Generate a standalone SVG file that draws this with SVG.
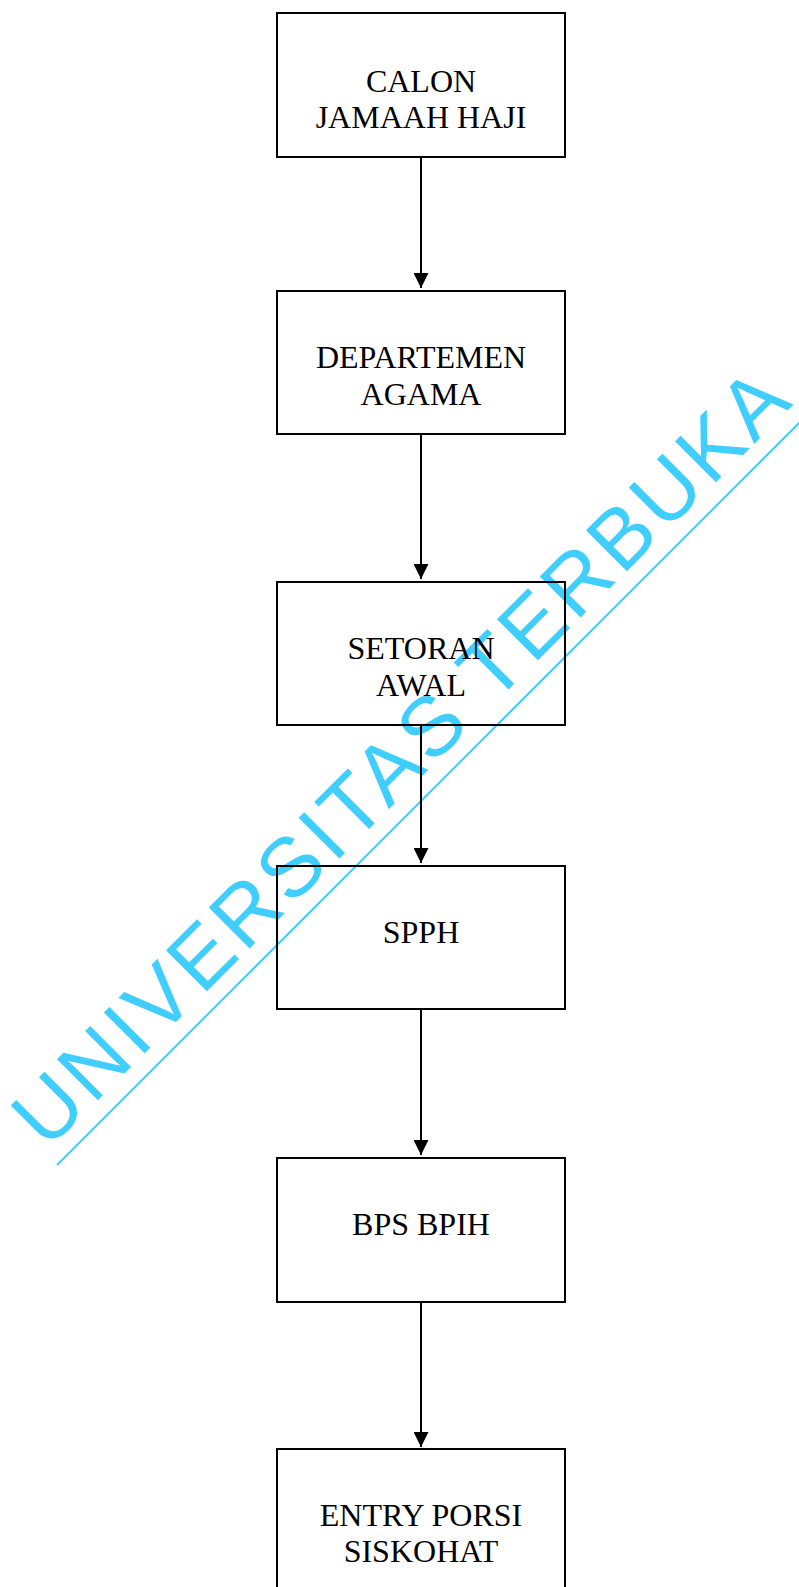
<svg xmlns="http://www.w3.org/2000/svg" width="799" height="1587" viewBox="0 0 799 1587">
<style>
.box{fill:none;stroke:#000;stroke-width:2}
.lbl{font-family:"Liberation Serif","Times New Roman",serif;font-size:32px;fill:#000;text-anchor:middle}
.conn{stroke:#000;stroke-width:2;fill:none}
.wm{font-family:"Liberation Sans",Arial,sans-serif;font-size:84px;fill:#40CEFF}
</style>
<defs>
<marker id="ah" markerUnits="userSpaceOnUse" markerWidth="15" markerHeight="15" refX="15" refY="7.5" orient="auto">
<path d="M0,0 L15,7.5 L0,15 z" fill="#000"/>
</marker>
</defs>
<rect width="799" height="1587" fill="#fff"/>
<g id="watermark">
<text class="wm" transform="translate(46.9,1151.1) rotate(-45)" x="0" y="0" textLength="1056" lengthAdjust="spacing">UNIVERSITAS TERBUKA</text>
<line x1="57" y1="1165" x2="801" y2="421" stroke="#40CEFF" stroke-width="2"/>
</g>
<g id="connectors">
<line class="conn" x1="421" y1="157" x2="421" y2="288" marker-end="url(#ah)"/>
<line class="conn" x1="421" y1="434" x2="421" y2="579" marker-end="url(#ah)"/>
<line class="conn" x1="421" y1="725" x2="421" y2="863" marker-end="url(#ah)"/>
<line class="conn" x1="421" y1="1009" x2="421" y2="1155" marker-end="url(#ah)"/>
<line class="conn" x1="421" y1="1302" x2="421" y2="1447" marker-end="url(#ah)"/>
</g>
<g id="calon">
<rect class="box" x="277" y="13" width="288" height="144"/>
<text class="lbl" x="421" y="92">CALON</text>
<text class="lbl" x="421" y="128">JAMAAH HAJI</text>
</g>
<g id="depag">
<rect class="box" x="277" y="291" width="288" height="143"/>
<text class="lbl" x="421" y="368">DEPARTEMEN</text>
<text class="lbl" x="421" y="405">AGAMA</text>
</g>
<g id="setoran">
<rect class="box" x="277" y="582" width="288" height="143"/>
<text class="lbl" x="421" y="659">SETORAN</text>
<text class="lbl" x="421" y="696">AWAL</text>
</g>
<g id="spph">
<rect class="box" x="277" y="866" width="288" height="143"/>
<text class="lbl" x="421" y="943">SPPH</text>
</g>
<g id="bps">
<rect class="box" x="277" y="1158" width="288" height="144"/>
<text class="lbl" x="421" y="1235">BPS BPIH</text>
</g>
<g id="entry">
<rect class="box" x="277" y="1449" width="288" height="143"/>
<text class="lbl" x="421" y="1526">ENTRY PORSI</text>
<text class="lbl" x="421" y="1562">SISKOHAT</text>
</g>
</svg>
